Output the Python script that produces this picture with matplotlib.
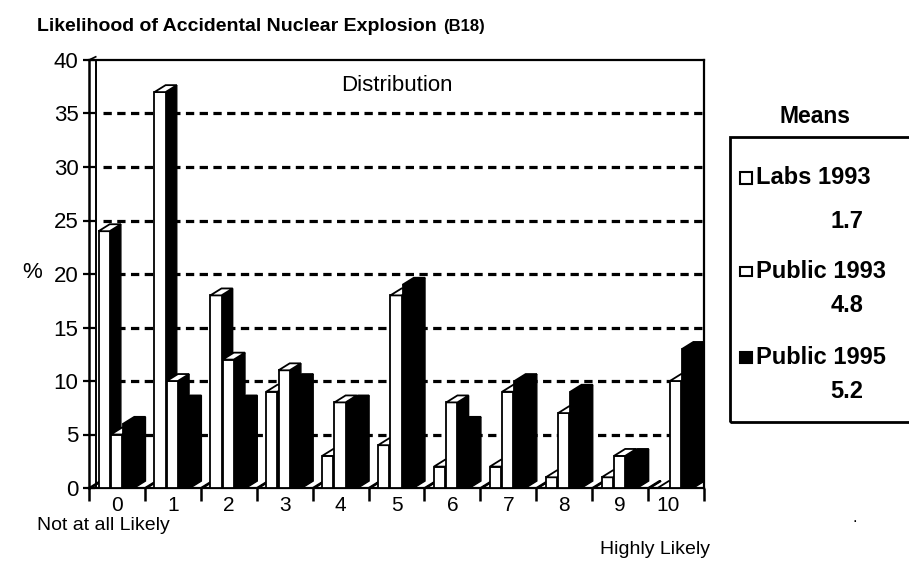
import numpy as np
import matplotlib
matplotlib.use('Agg')
import matplotlib.pyplot as plt
from matplotlib.patches import Rectangle, Polygon

plt.rcParams['font.family'] = ['Liberation Sans', 'DejaVu Sans']

# survey answers 0..10, percent of respondents
categories = ['0', '1', '2', '3', '4', '5', '6', '7', '8', '9', '10']
labs_1993 = [24, 37, 18, 9, 3, 4, 2, 2, 1, 1, 0]
public_1993 = [5, 10, 12, 11, 8, 18, 8, 9, 7, 3, 10]
public_1995 = [6, 8, 8, 10, 8, 19, 6, 10, 9, 3, 13]
# the thin flat marker at the start of every group
spacer = [0, 0, 0, 0, 0, 0, 0, 0, 0, 0, 0]

legend_names = ['Labs 1993', 'Public 1993', 'Public 1995']
legend_means = ['1.7', '4.8', '5.2']
y_ticks = [0, 5, 10, 15, 20, 25, 30, 35, 40]

W, H = 909, 561
fig = plt.figure(figsize=(W / 100, H / 100), dpi=100)
ax = fig.add_axes([89 / W, 1 - 488 / H, (704 - 89) / W, (488 - 60) / H])

n = len(categories)
ax.set_xlim(0, n)
ax.set_ylim(0, 40)

# dashed grid behind the bars
ax.hlines(y_ticks[1:-1], 0.25, n, colors='k', lw=2.3,
          linestyles=(0, (2.6, 1.7)), zorder=1)

dx, dy = 0.2, 0.65   # depth of the fake 3d boxes


def box3d(x0, w, h, face, z):
    """front face, dark side and top of one column"""
    ax.add_patch(Polygon([(x0 + w, 0), (x0 + w + dx, dy), (x0 + w + dx, h + dy), (x0 + w, h)],
                         closed=True, fc='k', ec='k', lw=1, zorder=z))
    ax.add_patch(Rectangle((x0, 0), w, h, fc=face, ec='k', lw=1.3, zorder=z + 0.1))
    ax.add_patch(Polygon([(x0, h), (x0 + dx, h + dy), (x0 + w + dx, h + dy), (x0 + w, h)],
                         closed=True, fc=face, ec='k', lw=1.3, zorder=z + 0.2))


series = [(spacer, 0.0, 0.03, 'w'),
          (labs_1993, 0.17, 0.2, 'w'),
          (public_1993, 0.39, 0.2, 'w'),
          (public_1995, 0.61, 0.2, 'k')]
for i in range(n):
    for s, (vals, off, w, face) in enumerate(series):
        box3d(i + off, w, vals[i], face, 2 + i * 4 + s)

# axes frame
for side in ['left', 'right', 'top', 'bottom']:
    ax.spines[side].set_linewidth(1.6)
ax.spines['left'].set_linewidth(1.8)
ax.plot([0.12, 0.12], [0, 40], color='k', lw=1.4, zorder=60, clip_on=False)
ax.plot([0, 0.12], [40, 40.3], color='k', lw=1.2, zorder=60, clip_on=False)

ax.set_yticks(y_ticks)
ax.set_yticklabels([str(t) for t in y_ticks], fontsize=16)
ax.set_xticks(np.arange(n + 1))
ax.set_xticklabels([])
label_pos = np.arange(n) + 0.5
label_pos[-1] -= 0.15   # the "10" sits a little left in the original
ax.set_xticks(label_pos, minor=True)
ax.set_xticklabels(categories, minor=True, fontsize=15)
ax.tick_params(axis='y', direction='inout', length=9, width=1.6, pad=3)
ax.tick_params(axis='x', which='major', direction='out', length=9, width=1.8)
ax.tick_params(axis='x', which='minor', length=0, pad=6)

ax.text(0.5, 0.94, 'Distribution', transform=ax.transAxes, fontsize=16,
        ha='center', va='center')

# titles and captions in figure pixels
def ftext(x, y, s, **kw):
    return fig.text(x / W, 1 - y / H, s, **kw)

title = ftext(37, 31, 'Likelihood of Accidental Nuclear Explosion', fontsize=14,
              fontweight='bold', va='baseline')
fig.canvas.draw()
title_end = title.get_window_extent().x1
ftext(title_end + 6, 31, '(B18)', fontsize=12, fontweight='bold', va='baseline')
ftext(22, 273, '%', fontsize=16, va='center')
ftext(37, 525, 'Not at all Likely', fontsize=14, va='center')
ftext(600, 549, 'Highly Likely', fontsize=14, va='center')
ftext(853, 517, '.', fontsize=12, va='center')

# legend box with the means
ftext(815, 117, 'Means', fontsize=16.5, fontweight='bold', ha='center', va='center')
fig.patches.append(Rectangle((730 / W, 1 - 422 / H), 200 / W, (422 - 137) / H,
                             transform=fig.transFigure, fill=False, ec='k', lw=2))
rows = [178, 271, 357]
mean_rows = [221, 305, 391]
marker_sizes = [(12, 12), (12, 9), (12, 11)]
marker_faces = ['w', 'w', 'k']
for name, m, yr, ym, (mw, mh), fc in zip(legend_names, legend_means, rows, mean_rows,
                                         marker_sizes, marker_faces):
    fig.patches.append(Rectangle((740 / W, 1 - (yr + mh / 2) / H), mw / W, mh / H,
                                 transform=fig.transFigure, fc=fc, ec='k', lw=1.5))
    ftext(756, yr, name, fontsize=17, fontweight='bold', va='center')
    ftext(847, ym, m, fontsize=17, fontweight='bold', ha='center', va='center')

fig.savefig('out.png', dpi=100)
